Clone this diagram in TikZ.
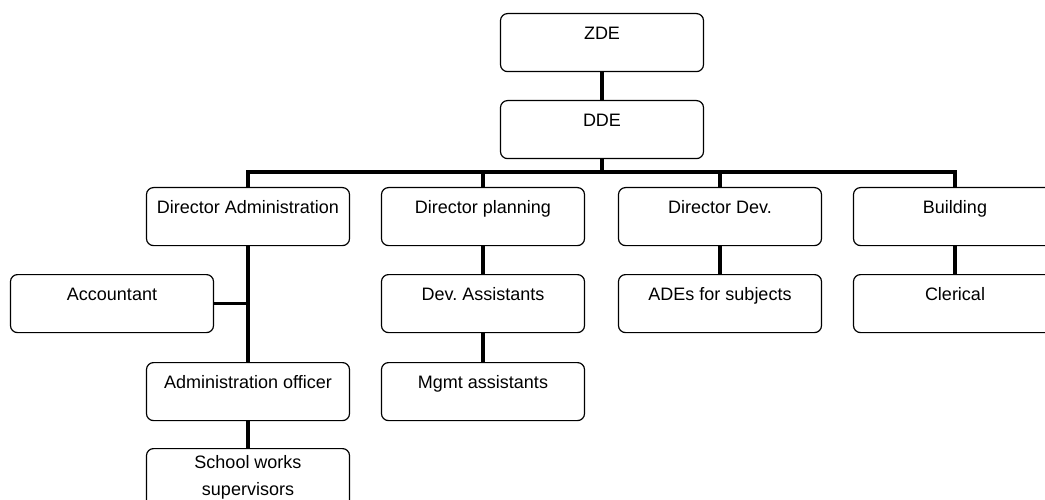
\documentclass[tikz,border=0pt]{standalone}
\usepackage{fontspec}
\setmainfont{Liberation Sans}
\frenchspacing
\begin{document}
\begin{tikzpicture}[x=1pt,y=-1pt,
  box/.style={draw, line width=1.2pt, rounded corners=7pt, minimum width=203pt,
    minimum height=58pt, inner xsep=0pt, inner ysep=0pt, text height=26pt,
    text depth=32pt, font=\fontsize{18}{27}\selectfont\frenchspacing, anchor=north},
  conn/.style={line width=3.5pt}]
\clip (0,0) rectangle (1045,500);
\node[box] (zde) at (602,13) {ZDE};
\node[box] (dde) at (602,100) {DDE};
\node[box] (da) at (248,187) {Director Administration};
\node[box] (dp) at (483,187) {Director planning};
\node[box] (dd) at (720,187) {Director Dev.};
\node[box] (bld) at (955,187) {Building};
\node[box] (acc) at (112,274) {Accountant};
\node[box] (deva) at (483,274) {Dev.\ Assistants};
\node[box] (ades) at (720,274) {ADEs for subjects};
\node[box] (cler) at (955,274) {Clerical};
\node[box] (ao) at (248,362) {Administration officer};
\node[box] (mgmt) at (483,362) {Mgmt assistants};
\node[box, text height={}, text depth={}, align=center] (sw) at (248,448) {School works\\supervisors};
\coordinate (bus) at (602,172);
\draw[conn] (zde.south) -- (dde.north);
\draw[conn] (dde.south) -- (bus);
\draw[conn] (da.north) -- (da.north |- bus) -- (bld.north |- bus) -- (bld.north);
\draw[conn] (dp.north) -- (dp.north |- bus);
\draw[conn] (dd.north) -- (dd.north |- bus);
\draw[conn] (da.south) -- (ao.north);
\draw[conn] (acc.east) -- (acc.east -| da.south);
\draw[conn] (ao.south) -- (sw.north);
\draw[conn] (dp.south) -- (deva.north);
\draw[conn] (deva.south) -- (mgmt.north);
\draw[conn] (dd.south) -- (ades.north);
\draw[conn] (bld.south) -- (cler.north);
\end{tikzpicture}
\end{document}
